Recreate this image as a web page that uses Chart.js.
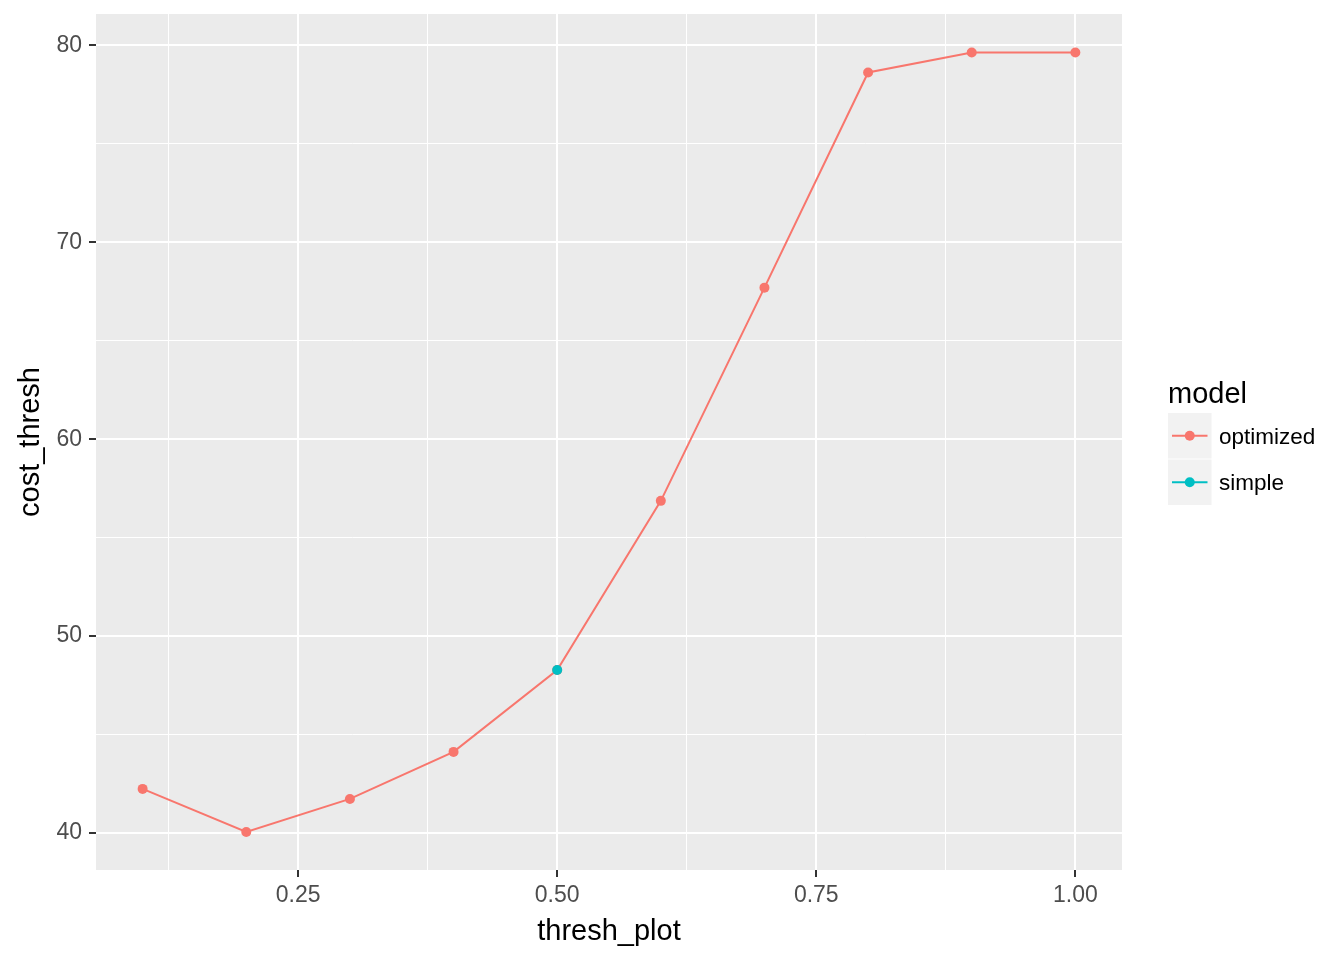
<!DOCTYPE html>
<html>
<head>
<meta charset="utf-8">
<script src="https://cdn.jsdelivr.net/npm/chart.js@4/dist/chart.umd.min.js"></script>
<style>
  html, body { margin: 0; padding: 0; background: #ffffff; }
  #wrap { position: relative; width: 1344px; height: 960px; }
  canvas { display: block; }
</style>
</head>
<body>
<div id="wrap"><canvas id="c" width="1344" height="960"></canvas></div>
<script>
// ---- data ----
const threshOptimized = [0.1, 0.2, 0.3, 0.4, 0.5, 0.6, 0.7, 0.8, 0.9, 1.0];
const costOptimized   = [42.24, 40.05, 41.73, 44.12, 48.28, 56.87, 67.70, 78.63, 79.64, 79.64];
const threshSimple = [0.5];
const costSimple   = [48.28];
const seriesNames  = ['optimized', 'simple'];
const seriesColors = ['#F8766D', '#00BFC4'];
const xMajorTicks = [0.25, 0.5, 0.75, 1.0];
const xMinorTicks = [0.125, 0.375, 0.625, 0.875];
const xTickLabels = ['0.25', '0.50', '0.75', '1.00'];
const yMajorTicks = [40, 50, 60, 70, 80];
const yMinorTicks = [45, 55, 65, 75];
const yTickLabels = ['40', '50', '60', '70', '80'];
const xTitle = 'thresh_plot';
const yTitle = 'cost_thresh';
const legendTitle = 'model';

const FONT = '"Liberation Sans", Arial, "DejaVu Sans", sans-serif';

function toPts(xs, ys) { return xs.map((x, i) => ({ x: x, y: ys[i] })); }

function isMajor(list, v) { return list.some(m => Math.abs(m - v) < 1e-9); }

function zeroPad(scale) {
  scale.paddingTop = 0; scale.paddingBottom = 0;
  scale.paddingLeft = 0; scale.paddingRight = 0;
}

const bgPlugin = {
  id: 'ggbg',
  beforeDraw(chart) {
    const { ctx, chartArea: a } = chart;
    ctx.save();
    ctx.fillStyle = '#ffffff';
    ctx.fillRect(0, 0, chart.width, chart.height);
    ctx.fillStyle = '#EBEBEB';
    ctx.fillRect(a.left, a.top, a.right - a.left, a.bottom - a.top);
    ctx.restore();
  }
};

const legendPlugin = {
  id: 'gglegend',
  afterDraw(chart) {
    const ctx = chart.ctx;
    ctx.save();
    ctx.fillStyle = '#000000';
    ctx.font = '29px ' + FONT;
    ctx.textBaseline = 'alphabetic';
    ctx.textAlign = 'left';
    ctx.fillText(legendTitle, 1168, 403);
    const keyX = 1168, keyW = 43.5, keyH = 45.5;
    const keyTops = [413, 459.5];
    seriesNames.forEach((name, i) => {
      const top = keyTops[i];
      ctx.fillStyle = '#F2F2F2';
      ctx.fillRect(keyX, top, keyW, keyH);
      const cy = top + keyH / 2;
      ctx.strokeStyle = seriesColors[i];
      ctx.lineWidth = 2;
      ctx.beginPath();
      ctx.moveTo(keyX + 4, cy);
      ctx.lineTo(keyX + keyW - 4, cy);
      ctx.stroke();
      ctx.fillStyle = seriesColors[i];
      ctx.beginPath();
      ctx.arc(keyX + keyW / 2, cy, 5, 0, Math.PI * 2);
      ctx.fill();
      ctx.fillStyle = '#000000';
      ctx.font = '22.5px ' + FONT;
      ctx.fillText(name, 1219, cy + 8);
    });
    ctx.restore();
  }
};

new Chart(document.getElementById('c'), {
  type: 'scatter',
  data: {
    datasets: [
      {
        label: seriesNames[0],
        data: toPts(threshOptimized, costOptimized),
        showLine: true,
        borderColor: seriesColors[0],
        backgroundColor: seriesColors[0],
        borderWidth: 2,
        pointRadius: 5,
        pointBorderWidth: 0,
        pointHoverRadius: 5,
        order: 2
      },
      {
        label: seriesNames[1],
        data: toPts(threshSimple, costSimple),
        showLine: true,
        borderColor: seriesColors[1],
        backgroundColor: seriesColors[1],
        borderWidth: 2,
        pointRadius: 5,
        pointBorderWidth: 0,
        pointHoverRadius: 5,
        order: 1
      }
    ]
  },
  options: {
    responsive: false,
    animation: false,
    devicePixelRatio: 1,
    layout: { padding: { top: 14, right: 222, left: 0, bottom: 0 } },
    plugins: { legend: { display: false }, tooltip: { enabled: false } },
    scales: {
      x: {
        type: 'linear',
        min: 0.055, max: 1.045,
        afterBuildTicks(scale) {
          scale.ticks = xMajorTicks.concat(xMinorTicks).sort((a, b) => a - b).map(v => ({ value: v }));
        },
        afterFit(scale) { scale.height = 90; zeroPad(scale); },
        border: { display: false },
        grid: {
          color: '#FFFFFF',
          lineWidth: c => isMajor(xMajorTicks, c.tick.value) ? 2 : 1,
          drawTicks: true,
          tickLength: 7,
          tickWidth: 2,
          tickColor: c => isMajor(xMajorTicks, c.tick.value) ? '#333333' : 'rgba(0,0,0,0)'
        },
        ticks: {
          autoSkip: false,
          maxRotation: 0,
          padding: 5,
          color: '#4D4D4D',
          font: { family: FONT, size: 23 },
          callback: (v) => {
            const i = xMajorTicks.findIndex(m => Math.abs(m - v) < 1e-9);
            return i >= 0 ? xTickLabels[i] : '';
          }
        },
        title: {
          display: true,
          text: xTitle,
          color: '#000000',
          font: { family: FONT, size: 29, lineHeight: 1 },
          padding: { top: 0, bottom: 14 }
        }
      },
      y: {
        type: 'linear',
        min: 38.12, max: 81.6,
        afterBuildTicks(scale) {
          scale.ticks = yMajorTicks.concat(yMinorTicks).sort((a, b) => a - b).map(v => ({ value: v }));
        },
        afterFit(scale) { scale.width = 96; zeroPad(scale); },
        border: { display: false },
        grid: {
          color: '#FFFFFF',
          lineWidth: c => isMajor(yMajorTicks, c.tick.value) ? 2 : 1,
          drawTicks: true,
          tickLength: 7,
          tickWidth: 2,
          tickColor: c => isMajor(yMajorTicks, c.tick.value) ? '#333333' : 'rgba(0,0,0,0)'
        },
        ticks: {
          autoSkip: false,
          padding: 7,
          color: '#4D4D4D',
          font: { family: FONT, size: 23 },
          callback: (v) => {
            const i = yMajorTicks.findIndex(m => Math.abs(m - v) < 1e-9);
            return i >= 0 ? yTickLabels[i] : '';
          }
        },
        title: {
          display: true,
          text: yTitle,
          color: '#000000',
          font: { family: FONT, size: 29, lineHeight: 1 },
          padding: { top: 16, bottom: 0 }
        }
      }
    }
  },
  plugins: [bgPlugin, legendPlugin]
});
</script>
</body>
</html>
